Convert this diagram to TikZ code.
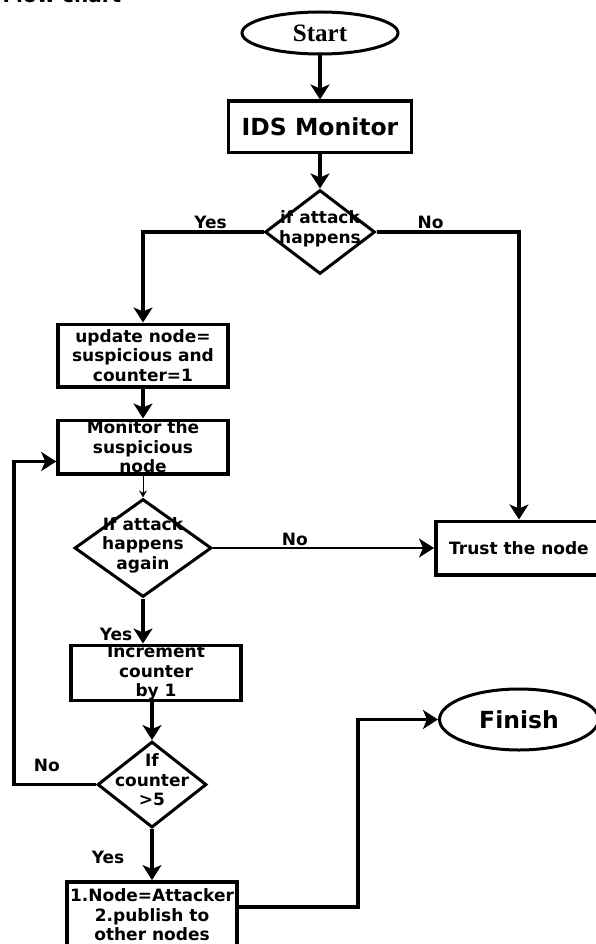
\documentclass[tikz,border=0pt]{standalone}
\usepackage{fontspec}
\setmainfont{DejaVu Sans}
\newfontfamily\startfont{Liberation Serif}
\usetikzlibrary{positioning,arrows.meta,shapes.geometric}
% text of a decision sits over the diamond, it does not size it
\newcommand{\dtext}[1]{\makebox[0pt]{\raisebox{-0.25em}{\smash{\begin{tabular}{@{}c@{}}#1\end{tabular}}}}}

\begin{document}
\begin{tikzpicture}[x=1pt, y=-1pt, node distance=40pt,
  every node/.style={align=center, font=\bfseries\fontsize{17}{19.5}\selectfont},
  box/.style={draw, line width=3.5pt, inner sep=0pt, minimum width=170pt},
  term/.style={draw, ellipse, line width=3pt, inner sep=0pt},
  decision/.style={draw, diamond, line width=3pt, inner sep=0pt, font=\bfseries\fontsize{17}{19.5}\selectfont},
  arr/.style={line width=3.5pt, -{Stealth[length=15pt, width=19pt, inset=4pt]}},
  lbl/.style={inner sep=1pt}]
\useasboundingbox (0,0) rectangle (596,944);
\node (title) [anchor=base west, font=\bfseries\fontsize{20}{24}\selectfont] at (-1,3) {Flow chart};

\node (start) [term, minimum width=156pt, minimum height=42pt, font=\startfont\bfseries\fontsize{25}{30}\selectfont] at (320,33) {Start};
\node (ids) [box, minimum width=183pt, minimum height=51.5pt, font=\bfseries\fontsize{23.5}{28}\selectfont, below=44pt of start] {IDS Monitor};
\node (d1) [decision, minimum width=110pt, minimum height=84pt, below=34pt of ids] {\dtext{if attack\\happens}};
\node (upd) [box, minimum height=62.5pt, below=47pt of d1, xshift=-177pt] {update node=\\suspicious and\\counter=1};
\node (mon) [box, minimum height=53.5pt, below=30pt of upd] {Monitor the\\suspicious\\node};
\node (d2) [decision, minimum width=137pt, minimum height=98pt, below=22pt of mon] {\dtext{If attack\\happens\\again}};
\node (inc) [box, minimum height=52.5pt, below=45pt of d2, xshift=13pt] {Increment\\counter\\ by 1};
\node (d3) [decision, minimum width=109pt, minimum height=86pt, below=38pt of inc, xshift=-4pt] {\dtext{If\\counter\\>5}};
\node (att) [box, minimum height=66.5pt, below=51pt of d3] {1.Node=Attacker\\2.publish to\\other nodes};
\node (trust) [box, minimum width=166.5pt, minimum height=53.5pt, right=221pt of d2] {Trust the node};
\node (fin) [term, minimum width=159pt, minimum height=61pt, font=\bfseries\fontsize{23.5}{28}\selectfont, below=111pt of trust] {Finish};
\coordinate[left=82pt of d3.west] (back);

\draw[arr] (start) -- (ids);
\draw[arr] (ids) -- (d1);
\draw[arr] (d1.west) -| (upd.north) node[lbl, pos=0.22, above=1pt] {Yes};
\draw[arr] (d1.east) -| (trust.north) node[lbl, pos=0.19, above=1pt] {No};
\draw[arr] (upd) -- (mon);
\draw[line width=1pt, -{Stealth[length=7pt, width=8pt]}] (mon) -- (d2);
\draw[arr, line width=2.2pt] (d2.east) -- (trust.west) node[lbl, pos=0.37, above=0pt] {No};
\draw[arr] (d2.south) -- (d2.south |- inc.north) node[lbl, pos=0.8, left=8pt] {Yes};
\draw[arr] (d3.north |- inc.south) -- (d3.north);
\draw[arr] (d3.west) -- node[lbl, pos=0.6, above=10pt] {No} (back) |- ([yshift=-14.5pt]mon.west);
\draw[arr] (d3) -- (att) node[lbl, pos=0.55, left=25pt] {Yes};
\draw[arr] ([yshift=8pt]att.east) -| ([xshift=-80pt]fin.west) -- (fin.west);
\end{tikzpicture}
\end{document}
